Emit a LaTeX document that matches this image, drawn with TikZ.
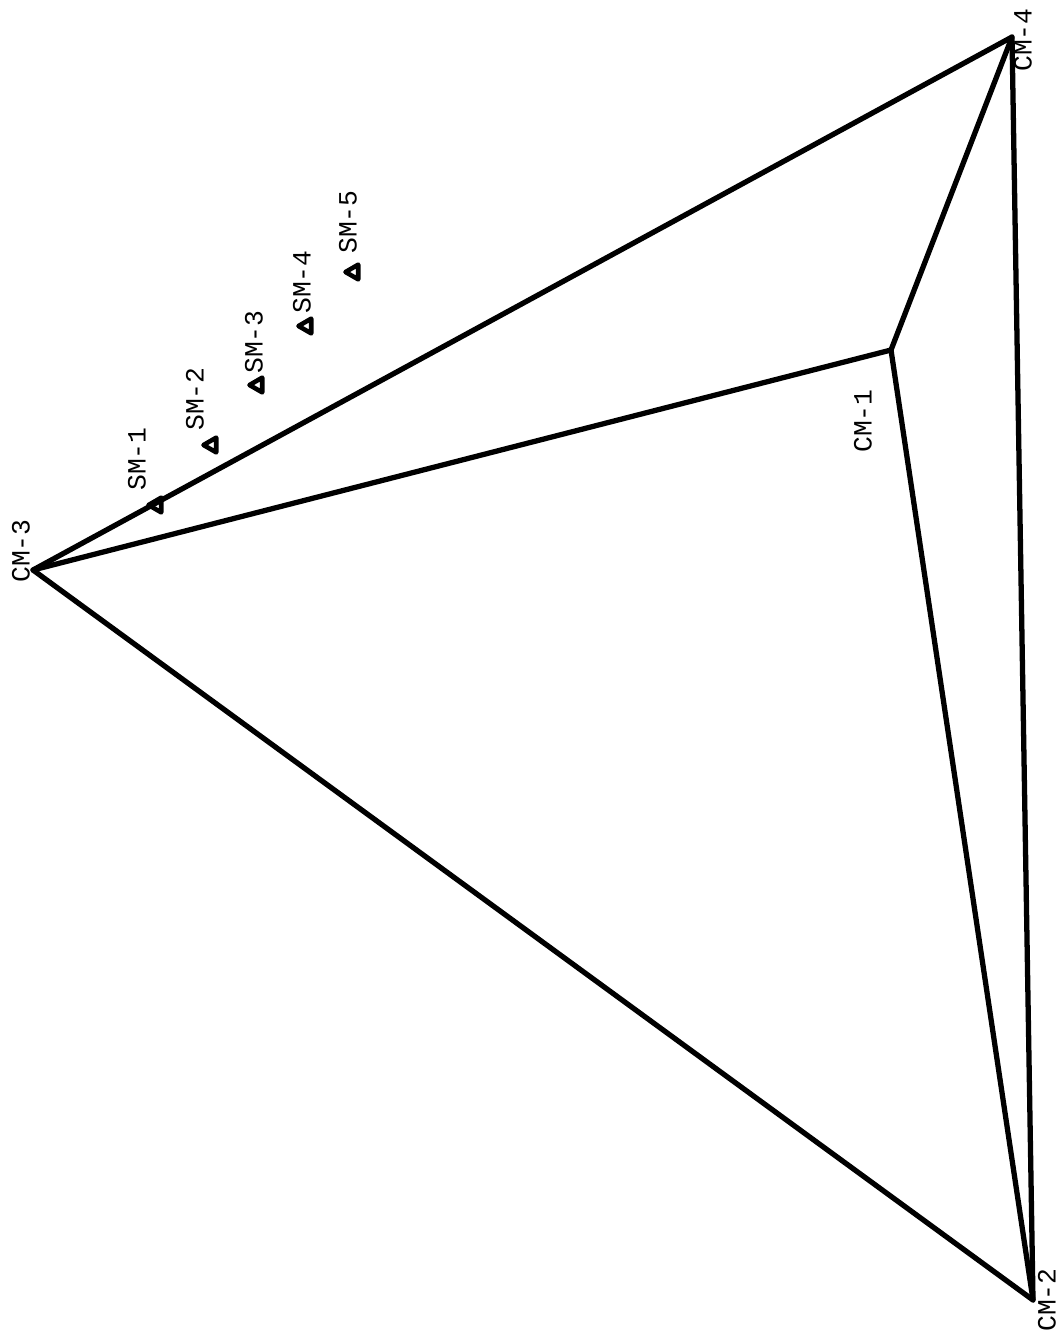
\documentclass[tikz,border=0pt]{standalone}
\usepackage{fontspec}
\newfontfamily\typefont{Liberation Mono}
\usetikzlibrary{shapes.geometric}
\begin{document}
\begin{tikzpicture}[x=0.01cm,y=-0.01cm,line join=round,line cap=round,every node/.style={font=\typefont\fontsize{7.5}{8}\selectfont,rotate=90,inner sep=0pt}]
	\useasboundingbox (0,0) rectangle (1059,1336);
	% corner points
	\coordinate (cm3) at (33,570);
	\coordinate (cm4) at (1012,37);
	\coordinate (cm2) at (1033,1300);
	\coordinate (cm1) at (891,350);
	\draw[line width=1.5pt] (cm3) -- (cm4) -- (cm2) -- cycle;
	\foreach \p in {cm3,cm4,cm2}{
		\draw[line width=1.5pt] (cm1) -- (\p);
	}
	\node (l3) at (21,551) {CM-3};
	\node (l4) at (1023,40) {CM-4};
	\node (l2) at (1047,1300) {CM-2};
	\node (l1) at (863,421) {CM-1};
	% sample points
	\foreach \n/\tx/\ty/\lx/\ly in {
		1/157/505/137/459,
		2/212/445/195/399,
		3/258/385/254/342,
		4/307/326/302/282,
		5/354/272/348/222
	}{
		\node[draw,line width=1.3pt,regular polygon,regular polygon sides=3,shape border rotate=0,minimum size=0.17cm] (sm\n) at (\tx,\ty) {};
		\node (smlabel\n) at (\lx,\ly) {SM-\n};
	}
\end{tikzpicture}
\end{document}
